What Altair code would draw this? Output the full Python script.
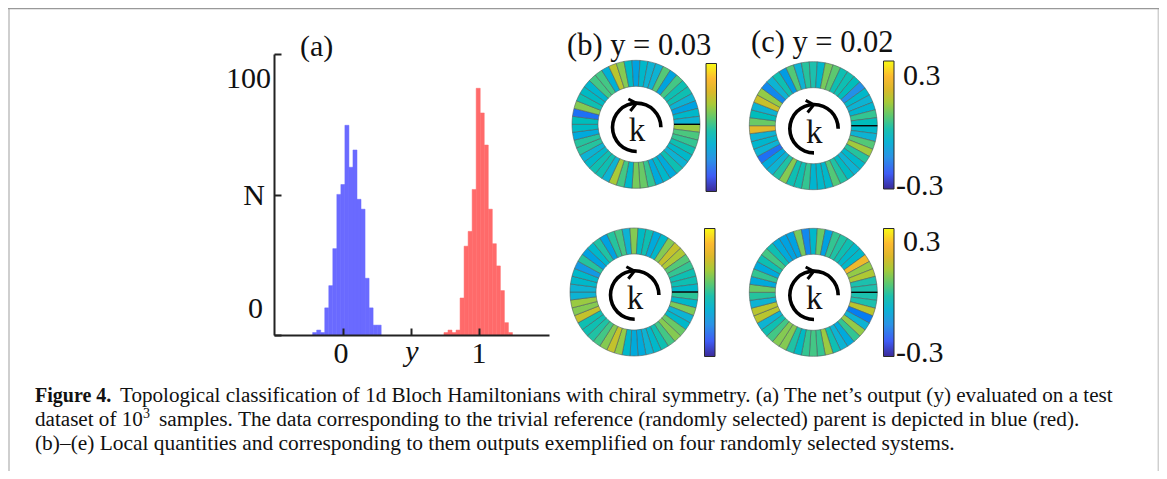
import altair as alt
import pandas as pd

# ---- histogram counts
blue_counts = [1, 2, 1, 11, 20, 35, 57, 61, 85, 68, 75, 55, 51, 23, 11, 4, 4]
red_counts = [1, 2, 1, 2, 15, 36, 42, 59, 100, 90, 77, 51, 37, 28, 18, 5, 1]
blue_first_bin = -0.22
red_first_bin = 0.741
bin_width = 0.0295

# ---- ring cells: position along the colour bar (0 bottom .. 1 top), clockwise from 3 o'clock
ring_b = [.66,.55,.52,.46,.40,.37,.46,.33,.40,.33,
          .52,.59,.61,.40,.54,.68,.37,.46,.46,.40,
          .37,.50,.50,.33,.42,.44,.16,.63,.46,.42,
          .39,.54,.54,.36,.71,.63,.42,.30,.40,.37,
          .37,.56,.31,.54,.46,.46,.37,.30,.40,.37]
ring_c = [.40,.37,.56,.67,.50,.40,.37,.42,.49,.56,
          .40,.40,.38,.52,.46,.46,.63,.49,.37,.33,
          .16,.37,.39,.37,.80,.59,.44,.37,.74,.65,
          .22,.37,.46,.28,.56,.37,.50,.47,.40,.61,
          .57,.46,.46,.44,.24,.40,.37,.38,.52,.44]
ring_d = [.51,.40,.62,.37,.40,.59,.63,.54,.46,.40,
          .37,.33,.33,.40,.65,.73,.63,.54,.49,.46,
          .46,.73,.63,.66,.37,.37,.40,.40,.27,.50,
          .30,.40,.49,.30,.50,.54,.37,.63,.42,.46,
          .33,.40,.63,.73,.69,.56,.52,.46,.46,.40]
ring_e = [.47,.47,.71,.19,.37,.65,.52,.33,.37,.46,
          .66,.52,.54,.52,.42,.49,.63,.63,.54,.46,
          .37,.71,.71,.37,.50,.59,.33,.52,.33,.46,
          .54,.46,.33,.30,.30,.61,.22,.40,.59,.30,
          .52,.49,.46,.40,.40,.84,.65,.69,.47,.47]

parula_colors = ["#3b2a98", "#3f5cf5", "#2a93e6", "#0db3d3", "#1cc0ae",
                 "#5cc870", "#a8ca38", "#dcb82a", "#fcb930", "#f8fa14"]
parula_stops = [0, .12, .25, .37, .47, .57, .68, .78, .88, 1]

title_b = "(b) y = 0.03"
title_c = "(c) y = 0.02"
panel_a = "(a)"
y_labels = ["100", "N", "0"]
x_labels = ["0", "1"]
bar_labels = ["0.3", "-0.3"]
caption_bold = "Figure 4."
caption_1 = "Topological classification of 1d Bloch Hamiltonians with chiral symmetry. (a) The net\u2019s output (y) evaluated on a test"
caption_2a = "dataset of 10"
caption_sup = "3"
caption_2b = "samples. The data corresponding to the trivial reference (randomly selected) parent is depicted in blue (red)."
caption_3 = "(b)\u2013(e) Local quantities and corresponding to them outputs exemplified on four randomly selected systems."

W, H = 1151, 463
SERIF = "Liberation Serif"
AXC = "#222222"

def px(x):
    return x - 8

def text(s, x, y, size=30, align="left", weight="normal", style="normal", color="#111111"):
    return alt.Chart(pd.DataFrame({"t": [s]})).mark_text(
        font=SERIF, fontSize=size, align=align, baseline="alphabetic",
        fontWeight=weight, fontStyle=style, color=color,
    ).encode(x=alt.value(px(x)), y=alt.value(px(y)), text="t:N")

x_scale = alt.Scale(domain=[-0.503, 1.510], range=[px(274), px(549)], nice=False, zero=False)
y_scale = alt.Scale(domain=[0, 113.9], range=[px(335), px(54)], nice=False, zero=False)

xax = alt.Axis(orient="top", offset=-px(335), values=[0, 0.5, 1], labels=False, title=None,
               grid=False, tickSize=7, tickWidth=2, tickColor=AXC, domainWidth=2,
               domainColor=AXC, zindex=2)
yax = alt.Axis(orient="right", offset=-(W - px(274)), values=[0, 56.95, 113.9], labels=False,
               title=None, grid=False, tickSize=7, tickWidth=2, tickColor=AXC, domainWidth=2,
               domainColor=AXC, zindex=2)

def hist(counts, first, color):
    df = pd.DataFrame({
        "a": [first + i * bin_width for i in range(len(counts))],
        "b": [first + (i + 1) * bin_width for i in range(len(counts))],
        "n": counts, "z": [0] * len(counts),
    })
    return alt.Chart(df).mark_rect(color=color, stroke=color, strokeWidth=0.5, opacity=1).encode(
        x=alt.X("a:Q", scale=x_scale, axis=xax), x2="b:Q",
        y=alt.Y("n:Q", scale=y_scale, axis=yax), y2="z:Q",
    )

theta_scale = alt.Scale(domain=[0, 50], range=[1.5707963, 1.5707963 + 6.2831853])
color_scale = alt.Scale(domain=parula_stops, range=parula_colors)

def ring(vals, cx, cy):
    df = pd.DataFrame({"k": range(50), "k2": range(1, 51), "v": vals})
    cells = alt.Chart(df).mark_arc(innerRadius=38, outerRadius=64, stroke="#4f5f60", strokeWidth=0.6, opacity=1).encode(
        theta=alt.Theta("k:Q", scale=theta_scale), theta2="k2:Q",
        color=alt.Color("v:Q", scale=color_scale, legend=None),
        x=alt.value(px(cx)), y=alt.value(px(cy)),
    )
    base = pd.DataFrame({"a": [0]})
    tick = alt.Chart(base).mark_rule(color="#000000", strokeWidth=1.3).encode(
        x=alt.value(px(cx + 38)), x2=alt.value(px(cx + 64)), y=alt.value(px(cy)))
    # circular arrow
    arrow = alt.Chart(pd.DataFrame({"s": [12.5], "e": [50]})).mark_arc(
        innerRadius=22.4, outerRadius=26, color="#000000", opacity=1).encode(
        theta=alt.Theta("s:Q", scale=theta_scale), theta2="e:Q",
        x=alt.value(px(cx + 0.7)), y=alt.value(px(cy + 3)))
    head = alt.Chart(base).mark_point(
        shape="M -1.05 -0.55 L 0 0 L -0.8 1", filled=False, color="#000000",
        strokeWidth=3, size=240, opacity=1).encode(
        x=alt.value(px(cx + 0.5)), y=alt.value(px(cy - 21)))
    k = text("k", cx + 1, cy + 17, size=33, align="center")
    return [cells, tick, arrow, head, k]

def colorbar(x0, x1, y0, y1):
    grad = alt.Gradient(gradient="linear", x1=0, x2=0, y1=1, y2=0,
                        stops=[alt.GradientStop(offset=o, color=c) for o, c in zip(parula_stops, parula_colors)])
    return alt.Chart(pd.DataFrame({"a": [0]})).mark_rect(fill=grad, stroke="#2a2a2a", strokeWidth=1, opacity=1).encode(
        x=alt.value(px(x0)), x2=alt.value(px(x1)), y=alt.value(px(y0)), y2=alt.value(px(y1)))

def rule(x0, x1, y0, y1, color, w):
    return alt.Chart(pd.DataFrame({"a": [0]})).mark_rule(color=color, strokeWidth=w).encode(
        x=alt.value(px(x0)), x2=alt.value(px(x1)), y=alt.value(px(y0)), y2=alt.value(px(y1)))

layers = [
    rule(9, 9, 8, 471, "#cfcfcf", 2),
    rule(1158.3, 1158.3, 8, 471, "#cfcfcf", 1.5),
    rule(8, 1159, 8.5, 8.5, "#999999", 1.5),
    hist(blue_counts, blue_first_bin, "#6a6aff"),
    hist(red_counts, red_first_bin, "#ff6a6a"),
]
for vals, cx, cy in [(ring_b, 636, 124.3), (ring_c, 813.3, 125.7), (ring_d, 634, 292), (ring_e, 813.3, 292.3)]:
    layers += ring(vals, cx, cy)
layers += [
    colorbar(706, 716.5, 63.5, 191.5),
    colorbar(883.5, 894, 61, 189),
    colorbar(704.5, 715, 228.5, 356.5),
    colorbar(883.5, 894, 228.5, 356.5),
]
layers += [
    text(panel_a, 300, 56),
    text(y_labels[0], 271, 88, align="right"),
    text(y_labels[1], 265, 205, align="right"),
    text(y_labels[2], 263, 318, align="right"),
    text(x_labels[0], 341, 363, align="center"),
    text("y", 412, 361, align="center", style="italic"),
    text(x_labels[1], 479, 363, align="center"),
    text(title_b, 567, 55, size=30.5),
    text(title_c, 751, 52, size=30.5),
    text(bar_labels[0], 903, 85),
    text(bar_labels[1], 896, 195),
    text(bar_labels[0], 903, 251),
    text(bar_labels[1], 896, 362),
    text(caption_bold, 35, 402, size=20, weight="bold"),
    text(caption_1, 120, 402, size=21.1),
    text(caption_2a, 35, 426, size=21.1),
    text(caption_sup, 143, 418, size=14),
    text(caption_2b, 159, 426, size=21.3),
    text(caption_3, 35, 450, size=21.4),
]

chart = alt.layer(*layers).properties(
    width=W, height=H, padding=0, background="#ffffff",
    autosize=alt.AutoSizeParams(type="none"),
).configure_view(stroke=None)

chart.save("out.html", embed_options={"renderer": "svg", "actions": False})
